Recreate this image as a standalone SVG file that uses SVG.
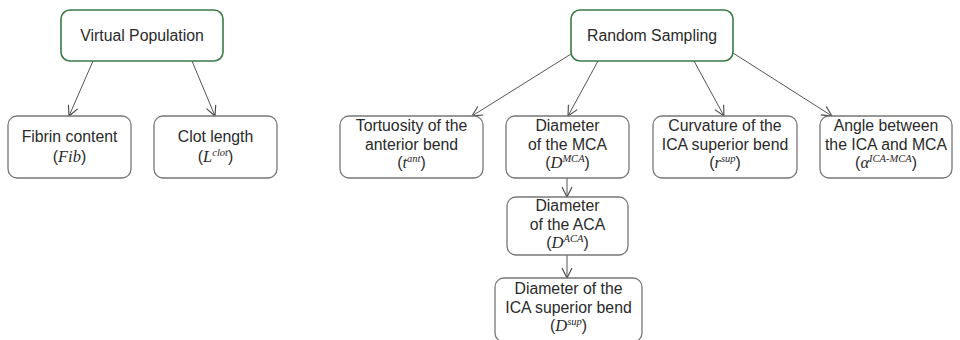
<svg xmlns="http://www.w3.org/2000/svg" width="960" height="340" viewBox="0 0 960 340">
<style>
.root{fill:#fff;stroke:#3a7a45;stroke-width:1.6}
.box{fill:#fff;stroke:#777;stroke-width:1.3}
.t{font-family:"Liberation Sans","Open Sans",sans-serif;font-size:15.8px;fill:#2a2a2a;text-anchor:middle}
.m{font-family:"Liberation Serif",serif;font-style:italic;font-size:16.5px}
.s{font-family:"Liberation Serif",serif;font-style:italic;font-size:10.5px}
.c{stroke:#555;stroke-width:1;fill:none;marker-end:url(#ah)}
</style>
<defs>
<marker id="ah" viewBox="0 0 12 12" refX="11" refY="6" markerWidth="12" markerHeight="12" markerUnits="userSpaceOnUse" orient="auto">
<path d="M1,1 L11,6 L1,11" fill="none" stroke="#444" stroke-width="1.1"/>
</marker>
</defs>
<rect width="960" height="340" fill="#fff"/>
<g id="connectors">
<line class="c" x1="93" y1="61" x2="69" y2="116"/>
<line class="c" x1="192" y1="61" x2="215" y2="116"/>
<line class="c" x1="571" y1="54" x2="472" y2="116"/>
<line class="c" x1="598" y1="61" x2="568" y2="116"/>
<line class="c" x1="694" y1="61" x2="724" y2="116"/>
<line class="c" x1="733" y1="53" x2="832" y2="116"/>
<line class="c" x1="567" y1="178" x2="567" y2="197"/>
<line class="c" x1="567" y1="255" x2="567" y2="278"/>
</g>
<g id="virtual-population">
<rect class="root" x="61" y="10" width="162" height="51" rx="9"/>
<text class="t" x="142" y="41">Virtual Population</text>
</g>
<g id="fibrin-content">
<rect class="box" x="8" y="116" width="123" height="62" rx="9"/>
<text class="t" x="69.5" y="142">Fibrin content</text>
<text class="t" x="69.5" y="162">(<tspan class="m">Fib</tspan>)</text>
</g>
<g id="clot-length">
<rect class="box" x="154" y="116" width="123" height="62" rx="9"/>
<text class="t" x="215.5" y="142">Clot length</text>
<text class="t" x="215.5" y="162">(<tspan class="m">L</tspan><tspan class="s" dy="-6">clot</tspan><tspan dy="6">)</tspan></text>
</g>
<g id="random-sampling">
<rect class="root" x="571" y="10" width="162" height="51" rx="9"/>
<text class="t" x="652" y="41">Random Sampling</text>
</g>
<g id="tortuosity">
<rect class="box" x="340" y="116" width="143" height="62" rx="9"/>
<text class="t" x="411.5" y="131">Tortuosity of the</text>
<text class="t" x="411.5" y="150">anterior bend</text>
<text class="t" x="411.5" y="168">(<tspan class="m">t</tspan><tspan class="s" dy="-6">ant</tspan><tspan dy="6">)</tspan></text>
</g>
<g id="diameter-mca">
<rect class="box" x="506" y="116" width="123" height="62" rx="9"/>
<text class="t" x="567.5" y="131">Diameter</text>
<text class="t" x="567.5" y="150">of the MCA</text>
<text class="t" x="567.5" y="168">(<tspan class="m">D</tspan><tspan class="s" dy="-6">MCA</tspan><tspan dy="6">)</tspan></text>
</g>
<g id="curvature">
<rect class="box" x="653" y="116" width="144" height="62" rx="9"/>
<text class="t" x="725" y="131">Curvature of the</text>
<text class="t" x="725" y="150">ICA superior bend</text>
<text class="t" x="725" y="168">(<tspan class="m">r</tspan><tspan class="s" dy="-6">sup</tspan><tspan dy="6">)</tspan></text>
</g>
<g id="angle">
<rect class="box" x="820" y="116" width="132" height="62" rx="9"/>
<text class="t" x="886" y="131">Angle between</text>
<text class="t" x="886" y="150">the ICA and MCA</text>
<text class="t" x="886" y="168">(<tspan class="m">α</tspan><tspan class="s" dy="-6">ICA-MCA</tspan><tspan dy="6">)</tspan></text>
</g>
<g id="diameter-aca">
<rect class="box" x="507" y="197" width="121" height="58" rx="9"/>
<text class="t" x="567.5" y="211">Diameter</text>
<text class="t" x="567.5" y="230">of the ACA</text>
<text class="t" x="567.5" y="248">(<tspan class="m">D</tspan><tspan class="s" dy="-6">ACA</tspan><tspan dy="6">)</tspan></text>
</g>
<g id="diameter-ica">
<rect class="box" x="495" y="278" width="147" height="64" rx="9"/>
<text class="t" x="568.5" y="294">Diameter of the</text>
<text class="t" x="568.5" y="313">ICA superior bend</text>
<text class="t" x="568.5" y="331">(<tspan class="m">D</tspan><tspan class="s" dy="-6">sup</tspan><tspan dy="6">)</tspan></text>
</g>
</svg>
